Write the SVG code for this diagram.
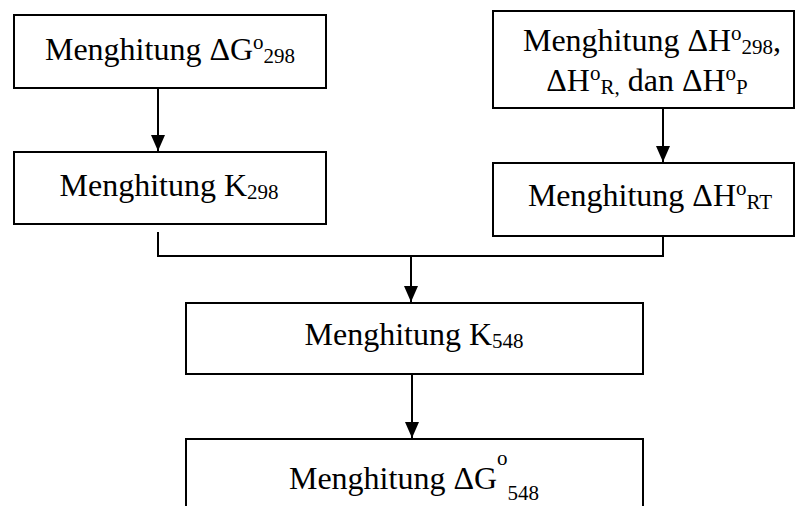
<svg xmlns="http://www.w3.org/2000/svg" width="795" height="506" viewBox="0 0 795 506">
<style>
.box{fill:#fff;stroke:#000;stroke-width:2}
.t{font-family:"Liberation Serif","Times New Roman",serif;font-size:32px;fill:#000}
.sm{font-size:21px}
.con{fill:none;stroke:#000;stroke-width:2}
</style>
<defs>
<marker id="ah" markerUnits="userSpaceOnUse" markerWidth="16" markerHeight="14" refX="16" refY="7" orient="auto" viewBox="0 0 16 14">
<path d="M0,0 L16,7 L0,14 Z" fill="#000"/>
</marker>
</defs>
<rect width="795" height="506" fill="#fff"/>
<g id="connectors">
<line class="con" x1="158" y1="88" x2="158" y2="151" marker-end="url(#ah)"/>
<line class="con" x1="663" y1="108" x2="663" y2="162" marker-end="url(#ah)"/>
<polyline class="con" points="158,232 158,256 663,256 663,236"/>
<line class="con" x1="411" y1="256" x2="411" y2="302" marker-end="url(#ah)"/>
<line class="con" x1="412" y1="374" x2="412" y2="438" marker-end="url(#ah)"/>
</g>
<g id="n1">
<rect class="box" x="14" y="15" width="312" height="73"/>
<text class="t" x="170" y="60" text-anchor="middle">Menghitung ΔG<tspan class="sm" dy="-11">o</tspan><tspan class="sm" dy="14">298</tspan></text>
</g>
<g id="n2">
<rect class="box" x="14" y="152" width="312" height="72"/>
<text class="t" x="169" y="196" text-anchor="middle">Menghitung K<tspan class="sm" dy="3">298</tspan></text>
</g>
<g id="n3">
<rect class="box" x="493" y="11" width="301" height="97"/>
<text class="t" x="652" y="51" text-anchor="middle">Menghitung ΔH<tspan class="sm" dy="-11">o</tspan><tspan class="sm" dy="14">298</tspan><tspan dy="-3">,</tspan></text>
<text class="t" x="647" y="91" text-anchor="middle">ΔH<tspan class="sm" dy="-11">o</tspan><tspan class="sm" dy="14">R,</tspan><tspan dy="-3"> dan ΔH</tspan><tspan class="sm" dy="-11">o</tspan><tspan class="sm" dy="14">P</tspan></text>
</g>
<g id="n4">
<rect class="box" x="493" y="163" width="301" height="73"/>
<text class="t" x="650" y="206" text-anchor="middle">Menghitung ΔH<tspan class="sm" dy="-11">o</tspan><tspan class="sm" dy="14">RT</tspan></text>
</g>
<g id="n5">
<rect class="box" x="186" y="303" width="457" height="71"/>
<text class="t" x="414" y="345" text-anchor="middle">Menghitung K<tspan class="sm" dy="3">548</tspan></text>
</g>
<g id="n6">
<rect class="box" x="186" y="439" width="457" height="80"/>
<text class="t" x="414" y="489" text-anchor="middle">Menghitung ΔG<tspan class="sm" dy="-24">o</tspan><tspan class="sm" dy="35">548</tspan></text>
</g>
</svg>
